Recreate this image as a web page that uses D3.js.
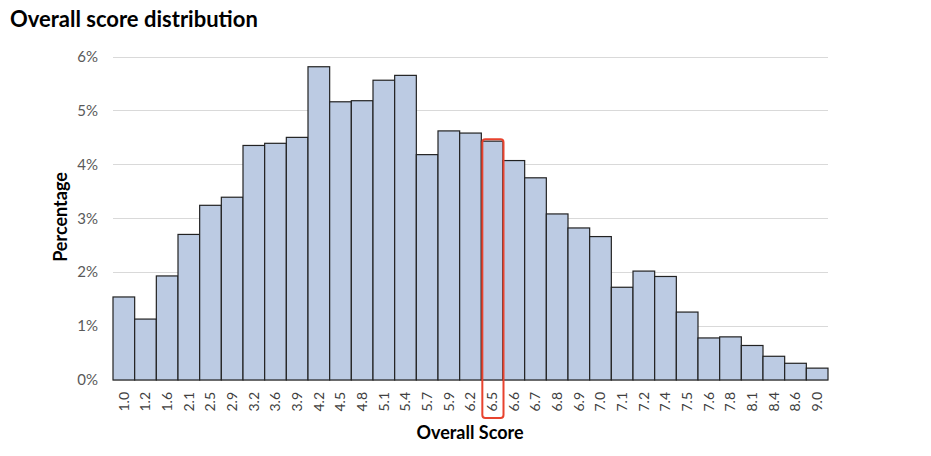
<!DOCTYPE html>
<html><head><meta charset="utf-8">
<script src="https://cdn.jsdelivr.net/npm/d3@7"></script>
<style>body{margin:0;background:#fff;} svg{display:block;}</style>
</head><body>
<svg id="chart" width="931" height="456"></svg>
<script>
const categories = ["1.0","1.2","1.6","2.1","2.5","2.9","3.2","3.6","3.9","4.2","4.5","4.8","5.1","5.4","5.7","5.9","6.2","6.5","6.6","6.7","6.8","6.9","7.0","7.1","7.2","7.4","7.5","7.6","7.8","8.1","8.4","8.6","9.0"];
const percentages = [1.54,1.13,1.93,2.70,3.24,3.39,4.35,4.39,4.50,5.81,5.16,5.18,5.56,5.65,4.18,4.62,4.58,4.43,4.07,3.75,3.08,2.82,2.66,1.72,2.02,1.92,1.26,0.78,0.80,0.64,0.44,0.31,0.22];
const yTicks = [0,1,2,3,4,5,6];
const highlighted = "6.5";

(function () {
const font = "Lato, 'Open Sans', 'Noto Sans', sans-serif";
const svg = d3.select("#chart");
const mLeft = 113, mRight = 828, mTop = 56.5, mBottom = 380;

const x = d3.scaleBand().domain(categories).range([mLeft, mRight]).padding(0);
const y = d3.scaleLinear().domain([0, 6]).range([mBottom, mTop]);

// title
svg.append("text").attr("x", 10).attr("y", 27)
  .attr("font-family", font).attr("font-weight", "bold").attr("font-size", 22)
  .attr("fill", "#000").text("Overall score distribution");

// gridlines
svg.append("g").selectAll("line").data(yTicks).join("line")
  .attr("x1", mLeft).attr("x2", mRight)
  .attr("y1", d => Math.round(y(d)) + 0.5).attr("y2", d => Math.round(y(d)) + 0.5)
  .attr("stroke", "#d9d9d9").attr("stroke-width", 1);

// y axis labels
const yAxis = d3.axisLeft(y).tickValues(yTicks).tickFormat(d => d + "%").tickSize(0).tickPadding(15);
const gy = svg.append("g").attr("transform", `translate(${mLeft},0)`).call(yAxis);
gy.select(".domain").remove();
gy.selectAll("text").attr("font-family", font).attr("font-size", 15).attr("fill", "#595959");

// bars
svg.append("g").selectAll("rect").data(categories).join("rect")
  .attr("x", d => x(d)).attr("y", (d, i) => y(percentages[i]))
  .attr("width", x.bandwidth()).attr("height", (d, i) => y(0) - y(percentages[i]))
  .attr("fill", "#bccbe3").attr("stroke", "#222").attr("stroke-width", 1.2);

// x axis labels
const xAxis = d3.axisBottom(x).tickSize(0).tickPadding(0);
const gx = svg.append("g").attr("transform", `translate(0,${mBottom})`).call(xAxis);
gx.select(".domain").remove();
gx.selectAll("text")
  .attr("font-family", font).attr("font-size", 14).attr("fill", "#404040")
  .attr("transform", "rotate(-90)")
  .attr("text-anchor", "end").attr("dy", "0.35em").attr("x", -12).attr("y", 0);

// highlight box
const hi = categories.indexOf(highlighted);
svg.append("rect")
  .attr("x", x(highlighted) + 1).attr("y", y(percentages[hi]) - 2)
  .attr("width", x.bandwidth() - 0.5).attr("height", 418 - (y(percentages[hi]) - 2))
  .attr("rx", 3).attr("ry", 3)
  .attr("fill", "none").attr("stroke", "#e8432e").attr("stroke-width", 2);

// axis titles
svg.append("text").attr("x", 470).attr("y", 439).attr("text-anchor", "middle")
  .attr("font-family", font).attr("font-weight", "bold").attr("font-size", 18)
  .attr("fill", "#000").text("Overall Score");
svg.append("text").attr("transform", `translate(67,217) rotate(-90)`).attr("text-anchor", "middle")
  .attr("font-family", font).attr("font-weight", "bold").attr("font-size", 18)
  .attr("fill", "#000").text("Percentage");
})();
</script>
</body></html>
